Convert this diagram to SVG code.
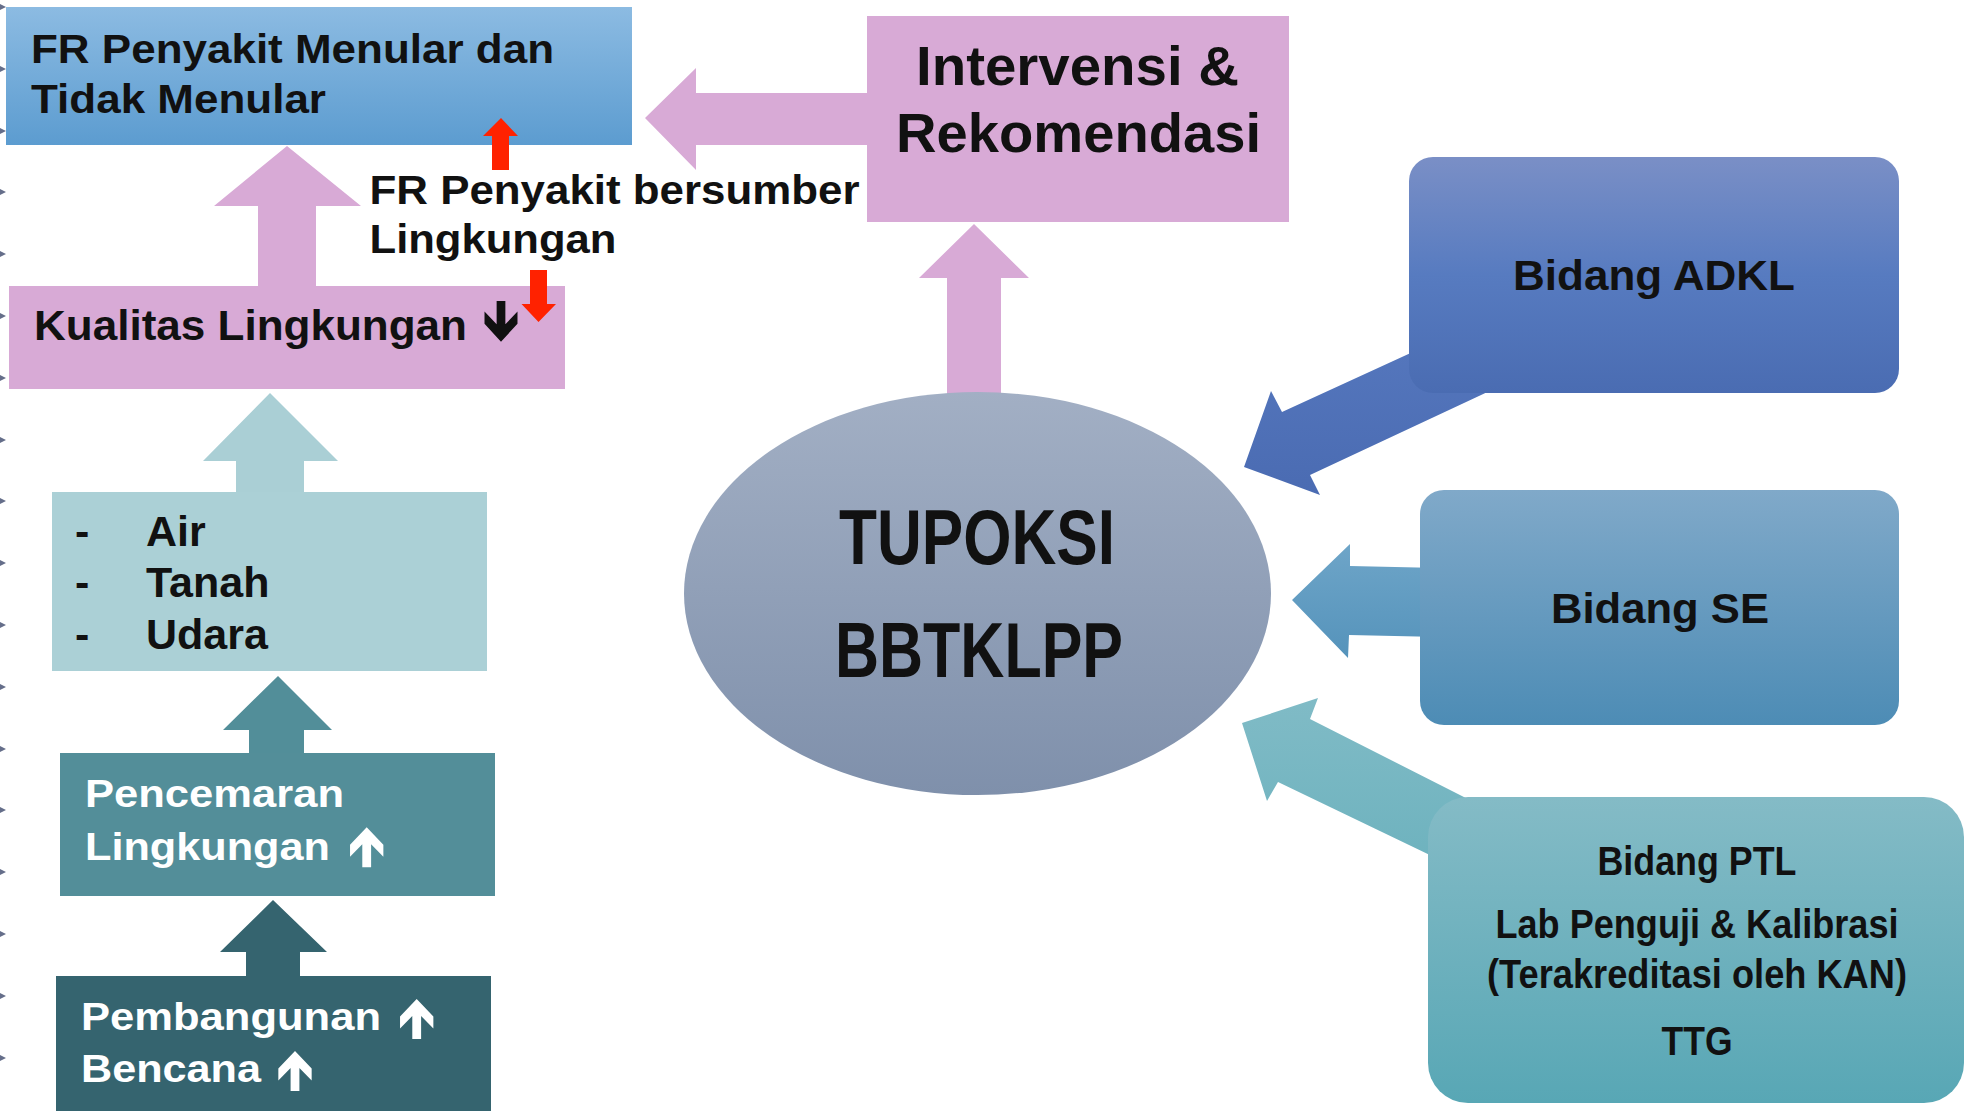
<svg xmlns="http://www.w3.org/2000/svg" width="1967" height="1111" viewBox="0 0 1967 1111">
<style>
.t{font-family:"Liberation Sans",Arial,"DejaVu Sans",sans-serif;font-weight:bold;fill:#111}
.w{fill:#fff}
.n{font-family:"Liberation Sans Narrow","Liberation Sans",Arial,sans-serif;font-weight:bold;fill:#111}
.pink{fill:#d8aad6}
.red{fill:#ff2200}
.tick{fill:#4a5575;opacity:.85}
</style>
<defs>
<linearGradient id="gBlue" x1="0" y1="0" x2="0" y2="1"><stop offset="0" stop-color="#8cbbe2"/><stop offset="1" stop-color="#5c9cd0"/></linearGradient>
<linearGradient id="gEll" x1="0" y1="0" x2="0" y2="1"><stop offset="0" stop-color="#a2afc4"/><stop offset="1" stop-color="#7f90ab"/></linearGradient>
<linearGradient id="gAdkl" x1="0" y1="0" x2="0" y2="1"><stop offset="0" stop-color="#7a8fc6"/><stop offset="0.5" stop-color="#577bc0"/><stop offset="1" stop-color="#4a6cb2"/></linearGradient>
<linearGradient id="gSe" x1="0" y1="0" x2="0" y2="1"><stop offset="0" stop-color="#80a9c9"/><stop offset="1" stop-color="#4d8cb5"/></linearGradient>
<linearGradient id="gPtl" x1="0" y1="0" x2="0" y2="1"><stop offset="0" stop-color="#84bbc6"/><stop offset="1" stop-color="#58a7b5"/></linearGradient>
<linearGradient id="gAdklA" gradientUnits="userSpaceOnUse" x1="0" y1="312" x2="0" y2="495"><stop offset="0" stop-color="#5779bf"/><stop offset="1" stop-color="#4a6bb2"/></linearGradient>
<linearGradient id="gSeA" gradientUnits="userSpaceOnUse" x1="0" y1="544" x2="0" y2="658"><stop offset="0" stop-color="#6ea5c8"/><stop offset="1" stop-color="#5593bb"/></linearGradient>
<linearGradient id="gPtlA" gradientUnits="userSpaceOnUse" x1="0" y1="698" x2="0" y2="908"><stop offset="0" stop-color="#80bbc6"/><stop offset="1" stop-color="#69b0bc"/></linearGradient>
<path id="upArrow" d="M0,0 L17,17.5 L17,29.5 L4.5,17 L4.5,40 L-4.5,40 L-4.5,17 L-17,29.5 L-17,17.5 Z"/>
</defs>
<rect width="1967" height="1111" fill="#ffffff"/>

<g id="decor">
<polygon class="tick" points="0,4 6,7 0,10"/>
<polygon class="tick" points="0,66 6,69 0,72"/>
<polygon class="tick" points="0,128 6,131 0,134"/>
<polygon class="tick" points="0,189 6,192 0,195"/>
<polygon class="tick" points="0,251 6,254 0,257"/>
<polygon class="tick" points="0,313 6,316 0,319"/>
<polygon class="tick" points="0,375 6,378 0,381"/>
<polygon class="tick" points="0,437 6,440 0,443"/>
<polygon class="tick" points="0,498 6,501 0,504"/>
<polygon class="tick" points="0,560 6,563 0,566"/>
<polygon class="tick" points="0,622 6,625 0,628"/>
<polygon class="tick" points="0,684 6,687 0,690"/>
<polygon class="tick" points="0,746 6,749 0,752"/>
<polygon class="tick" points="0,807 6,810 0,813"/>
<polygon class="tick" points="0,869 6,872 0,875"/>
<polygon class="tick" points="0,931 6,934 0,937"/>
<polygon class="tick" points="0,993 6,996 0,999"/>
<polygon class="tick" points="0,1055 6,1058 0,1061"/>
</g>

<g id="connectors">
<polygon class="pink" points="287,146 361,206 316,206 316,292 258,292 258,206 214,206"/>
<polygon class="pink" points="880,93 696,93 696,68 645,118 696,170 696,145 880,145"/>
<polygon class="pink" points="974,224 1029,278 1001,278 1001,400 947,400 947,278 919,278"/>
<polygon fill="#aacfd5" points="270,393 338,461 304,461 304,497 236,497 236,461 203,461"/>
<polygon fill="#528e99" points="278,676 332,730 304,730 304,757 249,757 249,730 223,730"/>
<polygon fill="#35646f" points="273,900 327,952 300,952 300,980 246,980 246,952 220,952"/>
<polygon fill="url(#gAdklA)" points="1244,467 1271,391 1282,412 1500,312 1560,358 1310,475 1320,495"/>
<polygon fill="url(#gSeA)" points="1292,600 1350,544 1350,566 1440,568 1440,637 1349,635 1348,658"/>
<polygon fill="url(#gPtlA)" points="1242,723 1318,698 1310,719 1600,866 1540,908 1278,782 1267,801"/>
</g>

<g id="node-fr-menular">
<rect x="6" y="7" width="626" height="138" fill="url(#gBlue)"/>
<text class="t" x="31" y="63" font-size="40" textLength="523" lengthAdjust="spacingAndGlyphs">FR Penyakit Menular dan</text>
<text class="t" x="31" y="113" font-size="40" textLength="295" lengthAdjust="spacingAndGlyphs">Tidak Menular</text>
</g>

<g id="node-intervensi">
<rect class="pink" x="867" y="16" width="422" height="206"/>
<text class="t" x="1077.5" y="85" font-size="55" text-anchor="middle" textLength="323" lengthAdjust="spacingAndGlyphs">Intervensi &amp;</text>
<text class="t" x="1078.5" y="152" font-size="55" text-anchor="middle" textLength="365" lengthAdjust="spacingAndGlyphs">Rekomendasi</text>
</g>

<g id="label-fr-lingkungan">
<text class="t" x="369.5" y="204" font-size="41" textLength="490" lengthAdjust="spacingAndGlyphs">FR Penyakit bersumber</text>
<text class="t" x="369.5" y="253" font-size="41" textLength="247" lengthAdjust="spacingAndGlyphs">Lingkungan</text>
</g>

<g id="node-kualitas">
<rect class="pink" x="9" y="286" width="556" height="103"/>
<text class="t" x="34" y="340" font-size="42" textLength="433" lengthAdjust="spacingAndGlyphs">Kualitas Lingkungan</text>
<use href="#upArrow" fill="#111" transform="translate(501,341.7) scale(0.97,-1.02)"/>
</g>

<g id="red-arrows">
<polygon class="red" points="501,118 518,136 509,136 509,170 492,170 492,136 483,136"/>
<polygon class="red" points="530,270 547,270 547,304 556,304 538.5,322 521.5,304 530,304"/>
</g>

<g id="node-media">
<rect fill="#abd0d6" x="52" y="492" width="435" height="179"/>
<text class="t" x="75" y="546" font-size="43">-</text>
<text class="t" x="146" y="546" font-size="43">Air</text>
<text class="t" x="75" y="597" font-size="43">-</text>
<text class="t" x="146" y="597" font-size="43">Tanah</text>
<text class="t" x="75" y="649" font-size="43">-</text>
<text class="t" x="146" y="649" font-size="43">Udara</text>
</g>

<g id="node-pencemaran">
<rect fill="#538e99" x="60" y="753" width="435" height="143"/>
<text class="t w" x="85" y="807" font-size="39" textLength="259" lengthAdjust="spacingAndGlyphs">Pencemaran</text>
<text class="t w" x="85" y="860" font-size="39" textLength="245" lengthAdjust="spacingAndGlyphs">Lingkungan</text>
<use href="#upArrow" fill="#fff" transform="translate(366.7,827.3) scale(0.98,1)"/>
</g>

<g id="node-pembangunan">
<rect fill="#35646f" x="56" y="976" width="435" height="140"/>
<text class="t w" x="81" y="1030" font-size="39" textLength="300" lengthAdjust="spacingAndGlyphs">Pembangunan</text>
<text class="t w" x="81" y="1082" font-size="39" textLength="180" lengthAdjust="spacingAndGlyphs">Bencana</text>
<use href="#upArrow" fill="#fff" transform="translate(416.7,999) scale(0.98,1)"/>
<use href="#upArrow" fill="#fff" transform="translate(295,1051) scale(0.98,1)"/>
</g>

<g id="node-tupoksi">
<ellipse cx="977.5" cy="593.5" rx="293.5" ry="201.5" fill="url(#gEll)"/>
<text class="n" x="977" y="564" font-size="78" text-anchor="middle" textLength="276" lengthAdjust="spacingAndGlyphs">TUPOKSI</text>
<text class="n" x="979" y="677" font-size="77" text-anchor="middle" textLength="288" lengthAdjust="spacingAndGlyphs">BBTKLPP</text>
</g>

<g id="node-adkl">
<rect x="1409" y="157" width="490" height="236" rx="24" ry="24" fill="url(#gAdkl)"/>
<text class="t" x="1654" y="290" font-size="42" text-anchor="middle" textLength="282" lengthAdjust="spacingAndGlyphs">Bidang ADKL</text>
</g>

<g id="node-se">
<rect x="1420" y="490" width="479" height="235" rx="24" ry="24" fill="url(#gSe)"/>
<text class="t" x="1660" y="623" font-size="42" text-anchor="middle" textLength="218" lengthAdjust="spacingAndGlyphs">Bidang SE</text>
</g>

<g id="node-ptl">
<rect x="1428" y="797" width="536" height="306" rx="40" ry="40" fill="url(#gPtl)"/>
<text class="n" x="1697" y="875" font-size="40" text-anchor="middle" textLength="199" lengthAdjust="spacingAndGlyphs">Bidang PTL</text>
<text class="n" x="1697" y="938" font-size="40" text-anchor="middle" textLength="403" lengthAdjust="spacingAndGlyphs">Lab Penguji &amp; Kalibrasi</text>
<text class="n" x="1697" y="988" font-size="40" text-anchor="middle" textLength="420" lengthAdjust="spacingAndGlyphs">(Terakreditasi oleh KAN)</text>
<text class="n" x="1697" y="1055" font-size="40" text-anchor="middle" textLength="71" lengthAdjust="spacingAndGlyphs">TTG</text>
</g>
</svg>
